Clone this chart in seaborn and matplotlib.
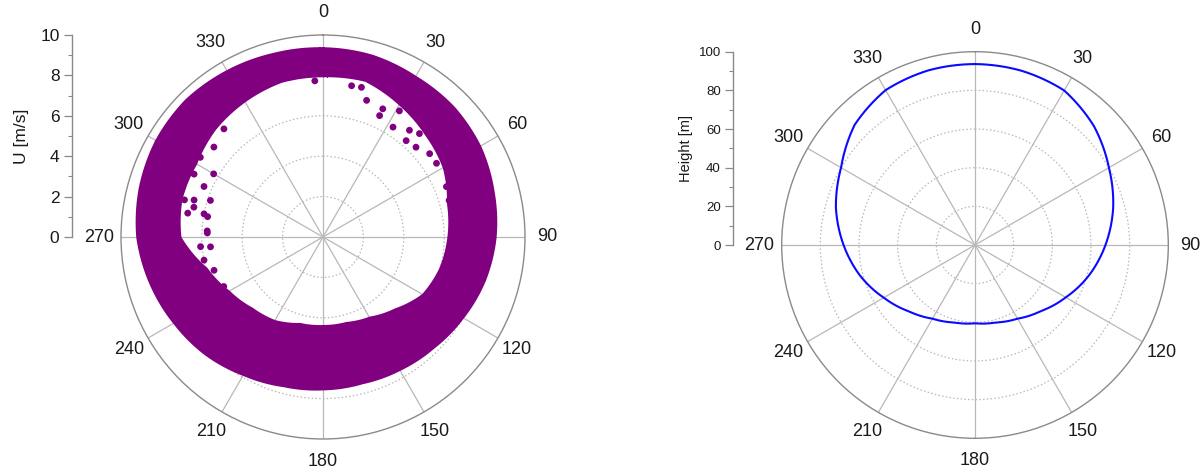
import numpy as np
import pandas as pd
import matplotlib
matplotlib.use("Agg")
import matplotlib.pyplot as plt
from matplotlib.ticker import FixedLocator, MultipleLocator
import seaborn as sns

# ---------------- data ----------------
# Left panel: dense band of U [m/s] samples versus direction (deg)
band_dir = [0, 15, 30, 45, 60, 75, 90, 105, 120, 135, 150, 165, 180,
            195, 210, 225, 240, 255, 270, 285, 300, 315, 330, 345, 360]
band_outer = [9.35, 9.3, 9.15, 9.1, 8.95, 8.7, 8.5, 8.25, 7.95, 7.7, 7.55, 7.45, 7.5,
              7.6, 7.85, 8.2, 8.5, 8.85, 9.2, 9.4, 9.55, 9.6, 9.5, 9.4, 9.35]
band_inner = [8.0, 8.05, 7.6, 7.2, 6.9, 6.4, 6.2, 6.0, 5.7, 5.05, 4.6, 4.4, 4.4,
              4.45, 4.8, 5.0, 5.4, 6.0, 7.1, 7.3, 7.3, 7.6, 7.8, 8.0, 8.0]

# Left panel: isolated samples inside the ring
pts_dir = [10.7, 14.4, 17.7, 25, 25, 31.2, 32.5, 39, 40.8, 43, 46, 52, 57, 67.8, 73.8, 357,
           317.5, 324.5, 309.5, 303, 300, 293, 288, 286, 280, 280, 272, 265.5, 296, 285,
           273, 265, 253, 243.5, 259, 283, 281]
pts_u = [7.62, 7.65, 7.1, 6.63, 7.0, 7.3, 6.45, 6.8, 6.3, 7.0, 6.4, 6.7, 6.7, 6.6, 6.5, 7.74,
         7.26, 7.9, 7.0, 7.24, 6.25, 6.4, 5.86, 6.64, 5.8, 6.8, 5.73, 6.08, 7.1, 7.1,
         5.74, 5.59, 5.64, 5.49, 6.0, 6.56, 6.0]

# Right panel: Height [m] versus direction (deg)
h_dir = [0, 15, 30, 45, 60, 75, 90, 105, 120, 135, 150, 165, 180,
         195, 210, 225, 240, 255, 270, 285, 300, 315, 330, 345, 360]
h_val = [93.6, 93.3, 92.3, 87, 80, 74, 67.5, 61, 54.2, 48.3, 44, 41.5, 40.5,
         41.5, 44, 48.5, 54.5, 61.5, 68, 74.5, 80, 88, 92.5, 93.5, 93.6]

angle_labels = ["0", "30", "60", "90", "120", "150", "180", "210", "240", "270", "300", "330"]
u_ticks = [0, 2, 4, 6, 8, 10]
h_ticks = [0, 20, 40, 60, 80, 100]

# ---------------- style ----------------
sns.set_theme(style="white")
plt.rcParams["font.family"] = ["Liberation Sans", "DejaVu Sans"]
TXT = "#1a1a1a"
GRID = "#b8b8b8"
SPINE = "#8a8a8a"
PURPLE = "#800080"
BLUE = "#0a0aff"

fig = plt.figure(figsize=(12.02, 4.72), dpi=100)


def style_polar(ax, rmax, rstep, label_size):
    ax.set_theta_zero_location("N")
    ax.set_theta_direction(-1)
    ax.set_ylim(0, rmax)
    ax.set_thetagrids(np.arange(0, 360, 30), angle_labels)
    ax.xaxis.set_minor_locator(FixedLocator(np.deg2rad(np.arange(15, 360, 30))))
    ax.set_yticks(np.arange(rstep, rmax, rstep))
    ax.set_yticklabels([])
    ax.set_rlabel_position(0)
    ax.xaxis.grid(True, color=GRID, lw=0.9, ls="-")
    ax.yaxis.grid(True, color=GRID, lw=0.9, ls=(0, (1.2, 1.8)))
    ax.tick_params(axis="x", which="major", labelsize=label_size, colors=TXT,
                   pad=9, length=5, width=0.9, direction="in")
    ax.tick_params(axis="x", which="minor", length=4, width=0.9, direction="in")
    for t in ax.xaxis.get_ticklines(minor=True) + ax.xaxis.get_ticklines():
        t.set_color(SPINE)
    ax.spines["polar"].set_color(SPINE)
    ax.spines["polar"].set_linewidth(1.0)
    ax.set_facecolor("white")
    ax.set_xlabel("")
    ax.set_ylabel("")


def radial_scale(rect, ticks, minor, label, tsize, lsize, labelpad):
    a = fig.add_axes(rect)
    a.set_ylim(ticks[0], ticks[-1])
    a.set_yticks(ticks)
    a.yaxis.set_minor_locator(MultipleLocator(minor))
    a.set_xticks([])
    for s in ["top", "right", "bottom"]:
        a.spines[s].set_visible(False)
    a.spines["left"].set_color(SPINE)
    a.spines["left"].set_linewidth(1.0)
    a.patch.set_alpha(0)
    a.tick_params(axis="y", which="major", length=6, width=0.9, color=SPINE,
                  labelsize=tsize, labelcolor=TXT, pad=3, left=True)
    a.tick_params(axis="y", which="minor", length=3, width=0.8, color=SPINE, left=True)
    a.set_ylabel(label, fontsize=lsize, color=TXT, labelpad=labelpad)
    return a


# ---------------- left panel ----------------
axL = fig.add_axes([121 / 1202, (472 - 439) / 472, 404 / 1202, 404 / 472], projection="polar")
th_b = np.deg2rad(band_dir)
band = axL.fill_between(th_b, band_inner, band_outer, color=PURPLE, lw=2.0,
                        edgecolor=PURPLE, zorder=3)
for p in band.get_paths():
    p._interpolation_steps = 40  # draw segments as arcs/spirals in polar space
df_pts = pd.DataFrame({"theta": np.deg2rad(pts_dir), "U": pts_u})
sns.scatterplot(data=df_pts, x="theta", y="U", ax=axL, color=PURPLE, s=24,
                edgecolor="none", linewidth=0, zorder=4, legend=False)
style_polar(axL, 10, 2, 13)

radial_scale([72 / 1202, (472 - 237) / 472, 0.001, 202 / 472],
             u_ticks, 1, "U [m/s]", 12.5, 12.5, 8)

# ---------------- right panel ----------------
axR = fig.add_axes([781.7 / 1202, (472 - 438.3) / 472, 386.6 / 1202, 386.6 / 472], projection="polar")
df_h = pd.DataFrame({"theta": np.deg2rad(h_dir), "Height": h_val})
sns.lineplot(data=df_h, x="theta", y="Height", ax=axR, color=BLUE, lw=1.5,
             sort=False, estimator=None, zorder=4)
for ln in axR.lines:
    ln.get_path()._interpolation_steps = 40
style_polar(axR, 100, 20, 13)

radial_scale([733.3 / 1202, (472 - 245) / 472, 0.001, 193.3 / 472],
             h_ticks, 10, "Height [m]", 9.5, 10.5, 4)

fig.savefig("out.png", dpi=100, facecolor="white")
